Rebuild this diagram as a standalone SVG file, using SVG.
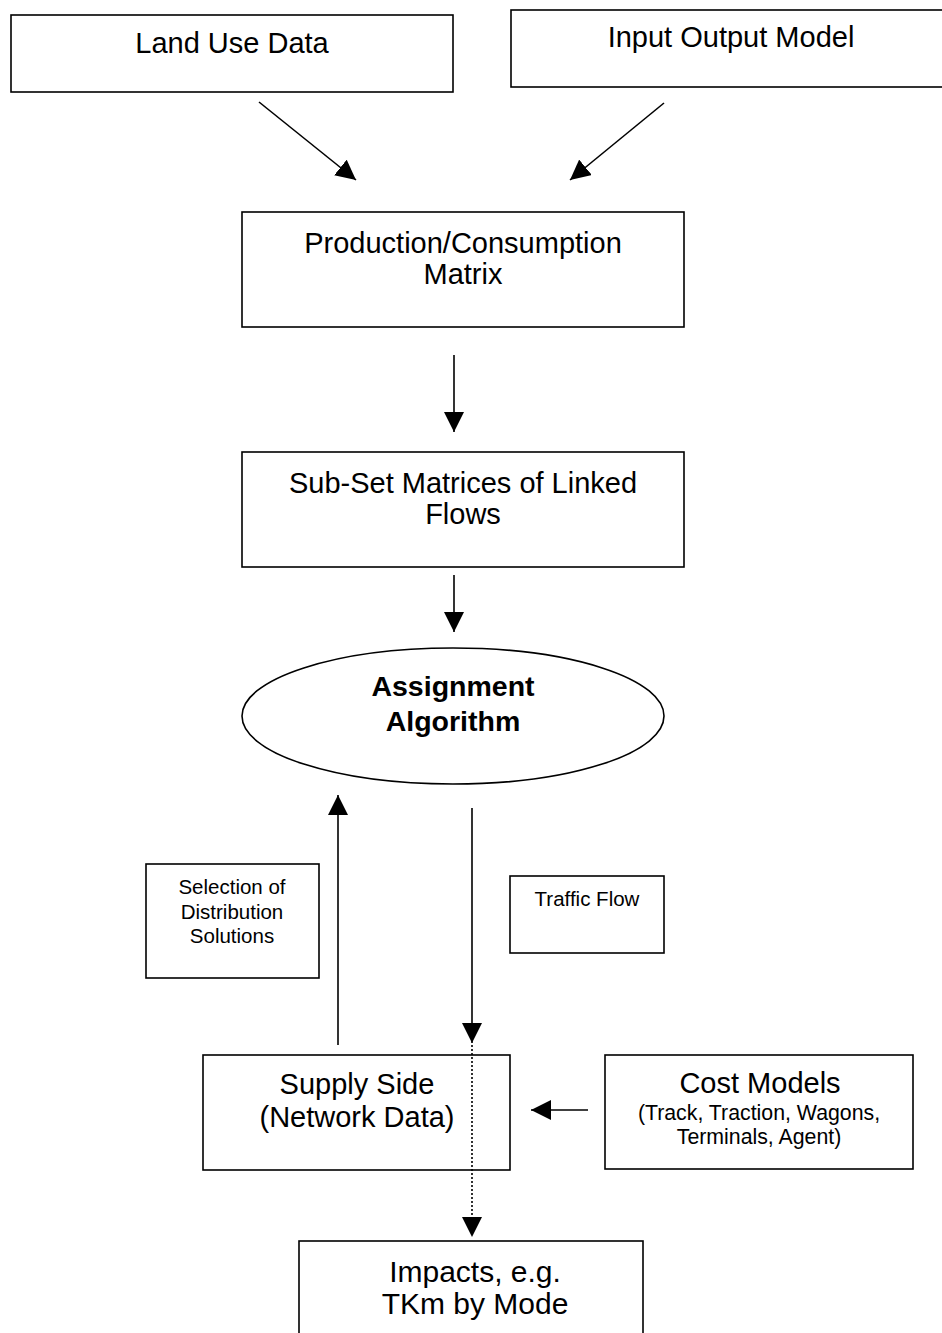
<svg xmlns="http://www.w3.org/2000/svg" width="942" height="1333" viewBox="0 0 942 1333">
<style>
.box{fill:#fff;stroke:#000;stroke-width:1.6}
.t{font-family:"Liberation Sans",Arial,sans-serif;fill:#000;text-anchor:middle}
.l{font-size:29px}
.s{font-size:20.5px}
.m{font-size:21.3px}
.b{font-size:28.5px;font-weight:bold}
.c{stroke:#000;stroke-width:1.6;fill:none}
.dot{stroke:#000;stroke-width:1.6;fill:none;stroke-dasharray:2 2}
</style>
<defs>
<marker id="ah" viewBox="0 0 20 20" refX="20" refY="10" markerWidth="20" markerHeight="20" markerUnits="userSpaceOnUse" orient="auto">
<path d="M0,0 L20,10 L0,20 z" fill="#000"/>
</marker>
</defs>
<rect width="942" height="1333" fill="#fff"/>
<g id="connectors">
<line class="c" x1="259" y1="102" x2="356" y2="180" marker-end="url(#ah)"/>
<line class="c" x1="664" y1="103" x2="570" y2="180" marker-end="url(#ah)"/>
<line class="c" x1="454" y1="355" x2="454" y2="432" marker-end="url(#ah)"/>
<line class="c" x1="454" y1="575" x2="454" y2="632" marker-end="url(#ah)"/>
<line class="c" x1="338" y1="1045" x2="338" y2="795" marker-end="url(#ah)"/>
<line class="c" x1="472" y1="808" x2="472" y2="1043" marker-end="url(#ah)"/>
<line class="c" x1="588" y1="1110" x2="531" y2="1110" marker-end="url(#ah)"/>
</g>
<g id="land-use">
<rect class="box" x="11" y="15" width="442" height="77"/>
<text class="t l" x="232" y="53">Land Use Data</text>
</g>
<g id="input-output">
<rect class="box" x="511" y="10" width="440" height="77"/>
<text class="t l" x="731" y="47">Input Output Model</text>
</g>
<g id="production">
<rect class="box" x="242" y="212" width="442" height="115"/>
<text class="t l" x="463" y="253">Production/Consumption</text>
<text class="t l" x="463" y="284">Matrix</text>
</g>
<g id="subset">
<rect class="box" x="242" y="452" width="442" height="115"/>
<text class="t l" x="463" y="493">Sub-Set Matrices of Linked</text>
<text class="t l" x="463" y="524">Flows</text>
</g>
<g id="assignment">
<ellipse class="box" cx="453" cy="716" rx="211" ry="68"/>
<text class="t b" x="453" y="696">Assignment</text>
<text class="t b" x="453" y="731">Algorithm</text>
</g>
<g id="selection">
<rect class="box" x="146" y="864" width="173" height="114"/>
<text class="t s" x="232" y="894">Selection of</text>
<text class="t s" x="232" y="919">Distribution</text>
<text class="t s" x="232" y="943">Solutions</text>
</g>
<g id="traffic-flow">
<rect class="box" x="510" y="876" width="154" height="77"/>
<text class="t s" x="587" y="906">Traffic Flow</text>
</g>
<g id="supply">
<rect class="box" x="203" y="1055" width="307" height="115"/>
<text class="t l" x="357" y="1094">Supply Side</text>
<text class="t l" x="357" y="1127">(Network Data)</text>
</g>
<g id="cost">
<rect class="box" x="605" y="1055" width="308" height="114"/>
<text class="t l" x="760" y="1093">Cost Models</text>
<text class="t m" x="759" y="1120">(Track, Traction, Wagons,</text>
<text class="t m" x="759" y="1144">Terminals, Agent)</text>
</g>
<g id="dotted-connector">
<line class="dot" x1="472" y1="1045" x2="472" y2="1237" marker-end="url(#ah)"/>
</g>
<g id="impacts">
<rect class="box" x="299" y="1241" width="344" height="120"/>
<text class="t l" x="475" y="1282" style="font-size:30px">Impacts, e.g.</text>
<text class="t l" x="475" y="1314" style="font-size:30px">TKm by Mode</text>
</g>
</svg>
